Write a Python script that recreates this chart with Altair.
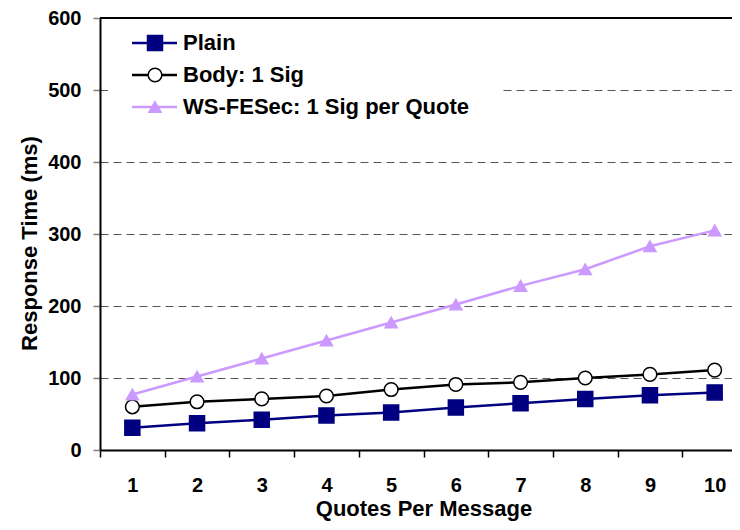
import altair as alt
import pandas as pd

quotes = [1, 2, 3, 4, 5, 6, 7, 8, 9, 10]
plain = [31, 37, 42, 48, 52, 59, 65, 71, 76, 80]
body = [60, 67, 71, 75, 84, 91, 94, 100, 105, 111]
wsfesec = [77, 102, 127, 152, 177, 202, 228, 251, 283, 305]

names = ["Plain", "Body: 1 Sig", "WS-FESec: 1 Sig per Quote"]
line_colors = ["#000080", "#000000", "#CC99FF"]
fill_colors = ["#000080", "#FFFFFF", "#CC99FF"]
line_widths = [2.5, 2.5, 3]
shapes = ["square", "circle", "triangle-up"]
sizes = [225, 150, 540]
y_ticks = [0, 100, 200, 300, 400, 500, 600]

FONT = "Liberation Sans"
W, H = 647, 432

rows = []
for name, vals in zip(names, [plain, body, wsfesec]):
    for q, v in zip(quotes, vals):
        rows.append({"quotes": q, "value": v, "series": name})
df = pd.DataFrame(rows)

leg = pd.DataFrame({"series": names, "i": list(range(len(names)))})

x_enc = alt.X(
    "quotes:O",
    scale=alt.Scale(type="band", paddingInner=0, paddingOuter=0),
    axis=alt.Axis(
        title="Quotes Per Message", tickBand="extent", labelAngle=0,
        labelFont=FONT, labelFontSize=20, labelFontWeight="bold", labelColor="black",
        titleFont=FONT, titleFontSize=22, titleFontWeight="bold", titleColor="black",
        domainColor="black", domainWidth=2, tickColor="black", tickWidth=1.5, tickSize=7,
        labelPadding=18, titlePadding=3,
    ),
)
y_enc = alt.Y(
    "value:Q",
    scale=alt.Scale(domain=[0, 600]),
    axis=alt.Axis(
        title="Response Time (ms)", values=y_ticks,
        labelFont=FONT, labelFontSize=20, labelFontWeight="bold", labelColor="black",
        titleFont=FONT, titleFontSize=22, titleFontWeight="bold", titleColor="black",
        domainColor="black", domainWidth=2, tickColor="#808080", tickWidth=1.5, tickSize=7,
        labelPadding=12, titlePadding=6, titleY=225,
        grid=True, gridDash=[8, 5], gridColor="#555555", gridWidth=1,
    ),
)

color_scale = alt.Scale(domain=names, range=line_colors)
fill_scale = alt.Scale(domain=names, range=fill_colors)
shape_scale = alt.Scale(domain=names, range=shapes)
size_scale = alt.Scale(domain=names, range=sizes)
width_scale = alt.Scale(domain=names, range=line_widths)

lines = alt.Chart(df).mark_line().encode(
    x=x_enc, y=y_enc,
    color=alt.Color("series:N", scale=color_scale, legend=None),
    strokeWidth=alt.StrokeWidth("series:N", scale=width_scale, legend=None),
    detail="series:N",
)
points = alt.Chart(df).mark_point(strokeWidth=1.5, opacity=1).encode(
    x="quotes:O", y="value:Q",
    stroke=alt.Stroke("series:N", scale=color_scale, legend=None),
    fill=alt.Fill("series:N", scale=fill_scale, legend=None),
    shape=alt.Shape("series:N", scale=shape_scale, legend=None),
    size=alt.Size("series:N", scale=size_scale, legend=None),
)
top = alt.Chart(pd.DataFrame({"v": [600]})).mark_rule(color="black", strokeWidth=2).encode(
    y=alt.Y("v:Q")
)

# manual legend
leg_bg = alt.Chart(pd.DataFrame({"a": [0]})).mark_rect(fill="white").encode(
    x=alt.value(8), x2=alt.value(400), y=alt.value(6), y2=alt.value(108)
)
base_leg = alt.Chart(leg).transform_calculate(ly="25 + 32 * datum.i")
leg_lines = base_leg.mark_rule().encode(
    x=alt.value(32), x2=alt.value(77),
    y=alt.Y("ly:Q", scale=None),
    color=alt.Color("series:N", scale=color_scale, legend=None),
    strokeWidth=alt.StrokeWidth("series:N", scale=width_scale, legend=None),
)
leg_pts = base_leg.mark_point(strokeWidth=1.5, opacity=1).encode(
    x=alt.value(55),
    y=alt.Y("ly:Q", scale=None),
    stroke=alt.Stroke("series:N", scale=color_scale, legend=None),
    fill=alt.Fill("series:N", scale=fill_scale, legend=None),
    shape=alt.Shape("series:N", scale=shape_scale, legend=None),
    size=alt.Size("series:N", scale=size_scale, legend=None),
)
leg_text = base_leg.mark_text(
    align="left", baseline="middle", font=FONT, fontSize=22, fontWeight="bold", color="black"
).encode(
    x=alt.value(83), y=alt.Y("ly:Q", scale=None), text="series:N"
)

chart = alt.layer(
    lines, top, leg_bg, points, leg_lines, leg_pts, leg_text
).properties(
    width=W, height=H,
    autosize=alt.AutoSizeParams(type="none"),
    padding={"left": 92, "top": 10, "right": -15, "bottom": 71},
).configure_view(stroke=None)

chart.save("out.html", embed_options={"renderer": "svg", "actions": False})
